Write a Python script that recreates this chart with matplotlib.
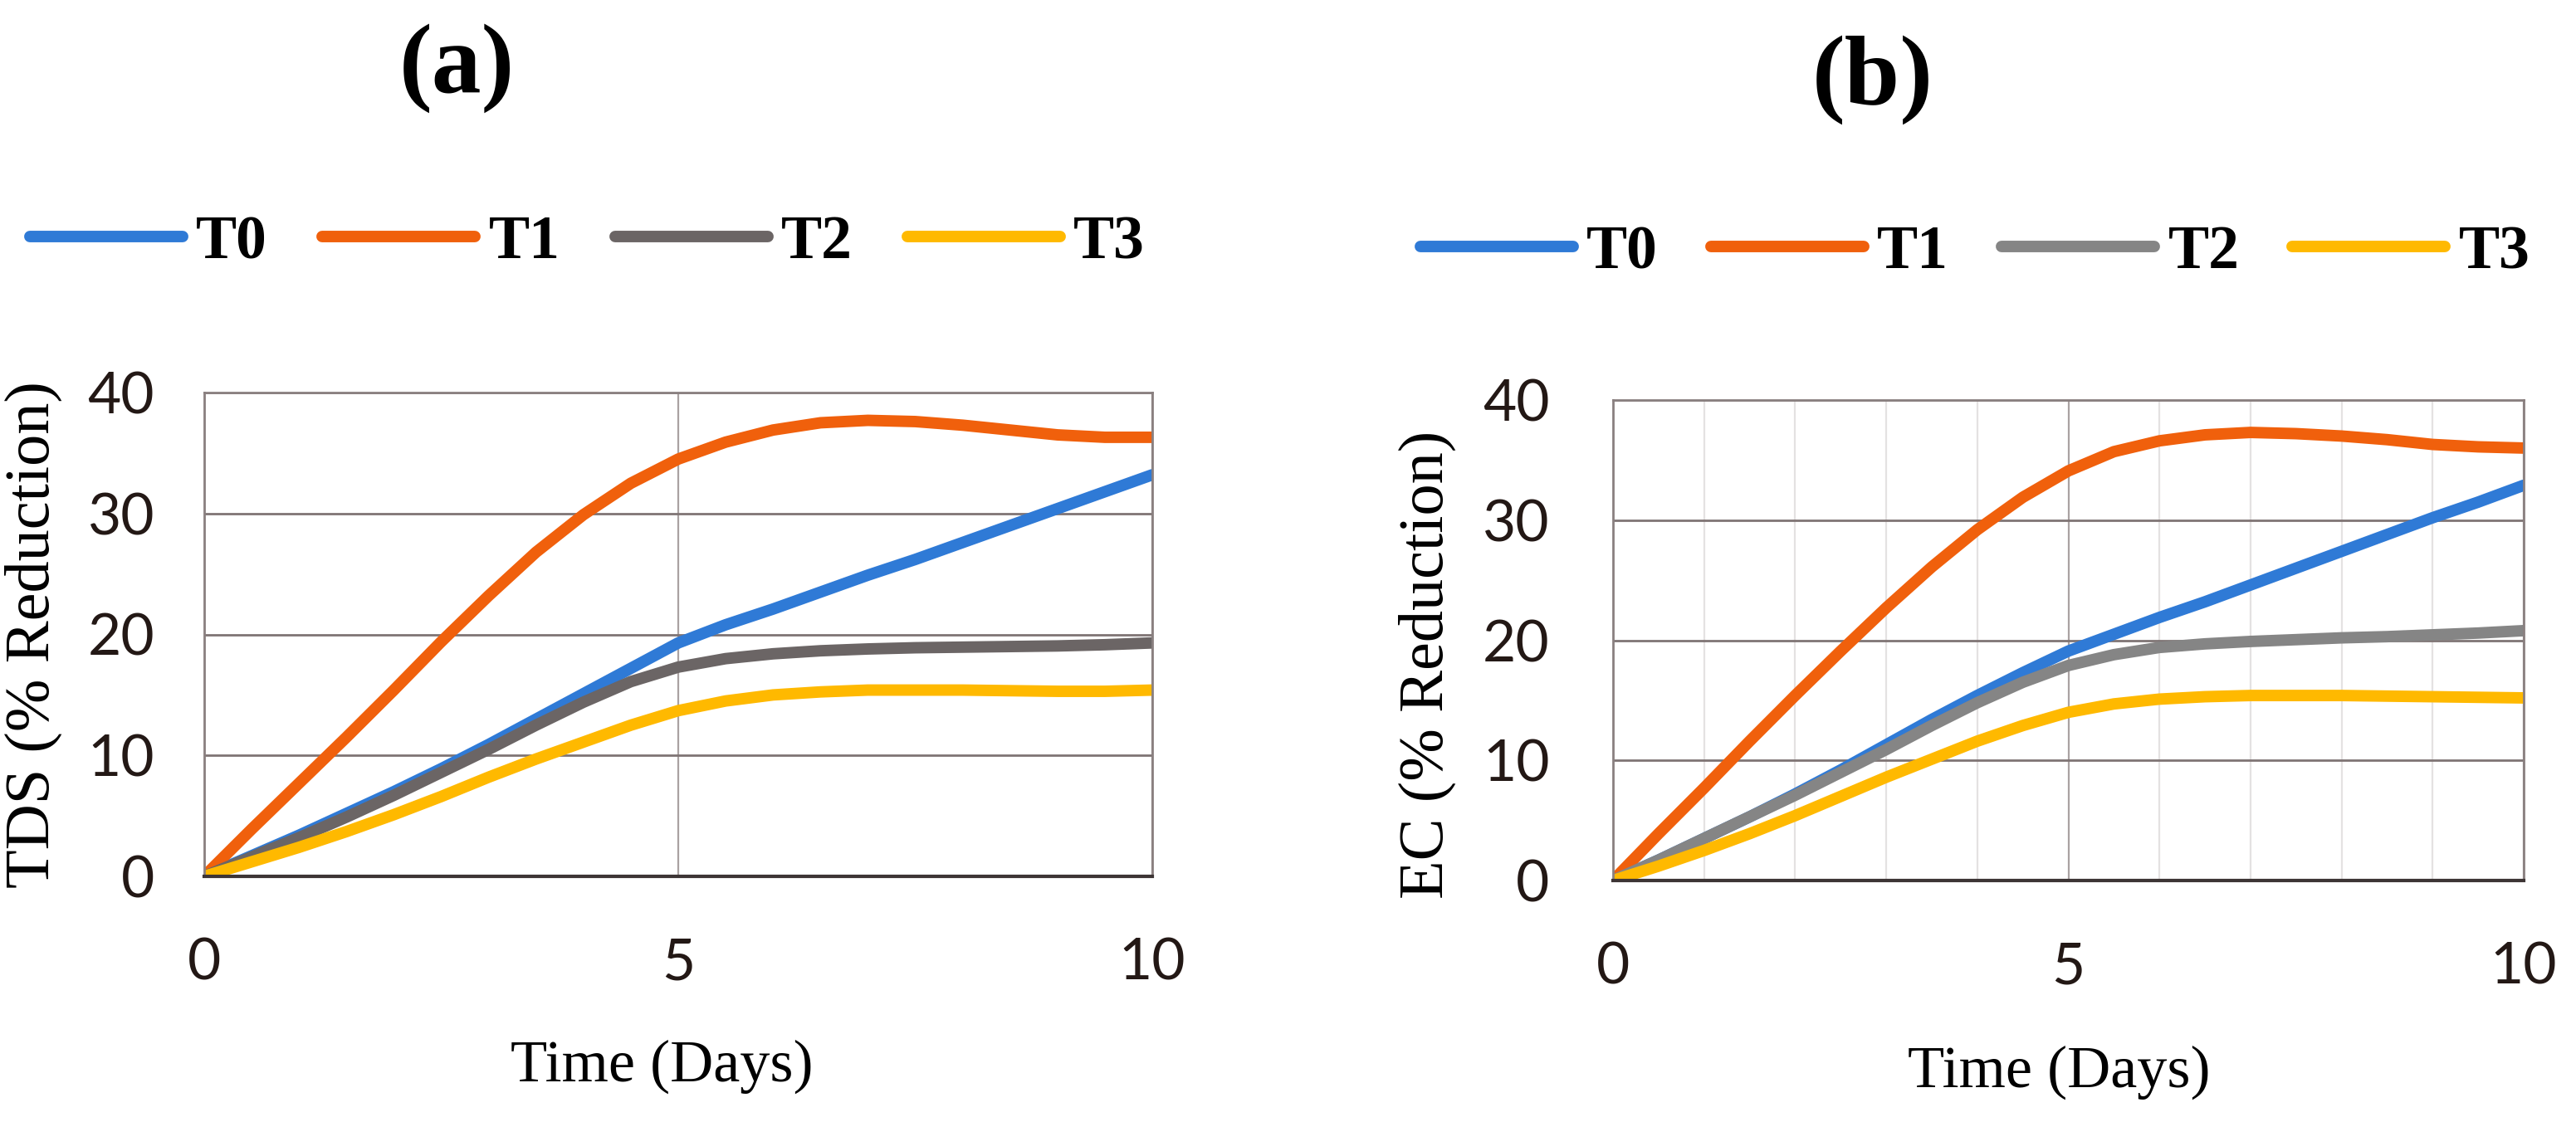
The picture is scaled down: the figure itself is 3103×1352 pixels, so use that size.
import numpy as np
import matplotlib
matplotlib.use("Agg")
import matplotlib.pyplot as plt
from matplotlib.ticker import MultipleLocator

# data, every half day from 0 to 10
days = [0, 0.5, 1, 1.5, 2, 2.5, 3, 3.5, 4, 4.5, 5,
        5.5, 6, 6.5, 7, 7.5, 8, 8.5, 9, 9.5, 10]
labels = ['T0', 'T1', 'T2', 'T3']

# (a) TDS
tds_t0 = [0, 1.7, 3.4, 5.2, 7.0, 8.9, 10.9, 13.0, 15.1, 17.2, 19.3,
          20.8, 22.1, 23.5, 24.9, 26.2, 27.6, 29.0, 30.4, 31.8, 33.2]
tds_t1 = [0, 3.9, 7.7, 11.5, 15.4, 19.4, 23.2, 26.8, 29.9, 32.5, 34.5,
          35.9, 36.9, 37.5, 37.7, 37.6, 37.3, 36.9, 36.5, 36.3, 36.3]
tds_t2 = [0, 1.6, 3.2, 4.9, 6.7, 8.6, 10.5, 12.5, 14.4, 16.1, 17.3,
          18.0, 18.4, 18.65, 18.8, 18.9, 18.95, 19.0, 19.05, 19.15, 19.3]
tds_t3 = [0, 1.2, 2.4, 3.7, 5.1, 6.6, 8.2, 9.7, 11.1, 12.5, 13.7,
          14.5, 15.0, 15.25, 15.4, 15.4, 15.4, 15.35, 15.3, 15.3, 15.4]

# (b) EC
ec_t0 = [0, 1.7, 3.5, 5.3, 7.2, 9.2, 11.3, 13.4, 15.4, 17.3, 19.1,
         20.5, 21.9, 23.2, 24.6, 26.0, 27.4, 28.8, 30.2, 31.5, 32.9]
ec_t1 = [0, 3.9, 7.7, 11.6, 15.4, 19.1, 22.7, 26.1, 29.2, 31.9, 34.1,
         35.7, 36.6, 37.1, 37.3, 37.2, 37.0, 36.7, 36.3, 36.1, 36.0]
ec_t2 = [0, 1.7, 3.5, 5.3, 7.1, 9.0, 10.9, 12.9, 14.8, 16.5, 17.9,
         18.8, 19.4, 19.7, 19.9, 20.05, 20.2, 20.3, 20.45, 20.6, 20.8]
ec_t3 = [0, 1.2, 2.5, 3.9, 5.4, 7.0, 8.6, 10.1, 11.6, 12.9, 14.0,
         14.7, 15.1, 15.3, 15.4, 15.4, 15.4, 15.35, 15.3, 15.25, 15.2]

colors_a = ['#2f7ad6', '#f0600c', '#6b6565', '#ffb900']
colors_b = ['#2f7ad6', '#f0600c', '#858585', '#ffb900']

serif = 'Liberation Serif'
tickfont = 'Lato'

fig = plt.figure(figsize=(31.03, 13.52), dpi=100)
fig.patch.set_facecolor('white')

ax1 = fig.add_axes([246/3103, 1-1056/1352, (1388-246)/3103, (1056-473)/1352])
ax2 = fig.add_axes([1943/3103, 1-1061/1352, (3040-1943)/3103, (1061-482)/1352])


def setup(ax, series, colors, ylab, minor, ypad, lab_xy):
    ax.set_xlim(0, 10)
    ax.set_ylim(0, 40)
    ax.xaxis.set_major_locator(MultipleLocator(5))
    ax.yaxis.set_major_locator(MultipleLocator(10))
    ax.grid(axis='y', which='major', color='#7f7474', lw=2.0, zorder=0)
    ax.grid(axis='x', which='major', color='#aaa2a2', lw=1.6, zorder=0)
    if minor:
        ax.xaxis.set_minor_locator(MultipleLocator(1))
        ax.grid(axis='x', which='minor', color='#e4e2e2', lw=1.6, zorder=0)
    ax.set_axisbelow(True)
    for s in ['top', 'right', 'left']:
        ax.spines[s].set_color('#8a8080')
        ax.spines[s].set_linewidth(2.0)
    ax.spines['bottom'].set_color('#3d3535')
    ax.spines['bottom'].set_linewidth(3.0)
    ax.tick_params(which='both', length=0)
    ax.tick_params(axis='x', pad=53, labelsize=50, labelcolor='#231815')
    ax.tick_params(axis='y', pad=ypad, labelsize=50, labelcolor='#231815')
    for t in ax.get_xticklabels() + ax.get_yticklabels():
        t.set_fontfamily(tickfont)
    for y, c, lab in zip(series, colors, labels):
        ax.plot(days, y, color=c, lw=10, label=lab, solid_capstyle='round',
                solid_joinstyle='round')
    ax.set_ylabel(ylab, fontfamily=serif, fontsize=55)
    ax.yaxis.set_label_coords(*lab_xy)


setup(ax1, [tds_t0, tds_t1, tds_t2, tds_t3], colors_a, 'TDS (% Reduction)',
      False, 43, (-0.150, 0.50))
setup(ax2, [ec_t0, ec_t1, ec_t2, ec_t3], colors_b, 'EC (% Reduction)',
      True, 55, (-0.172, 0.45))

# panel titles
fig.text(550/3103, 1-82/1352, '(a)', fontfamily=serif, fontweight='bold',
         fontsize=86, ha='center', va='center')
fig.text(2256/3103, 1-96/1352, '(b)', fontfamily=serif, fontweight='bold',
         fontsize=86, ha='center', va='center')

# x labels
fig.text(797/3103, 1-1285/1352, 'Time (Days)', fontfamily=serif,
         fontsize=52, ha='center', va='center')
fig.text(2480/3103, 1-1292/1352, 'Time (Days)', fontfamily=serif,
         fontsize=52, ha='center', va='center')

# legends
for ax, x0, y0, cs in [(ax1, 36, 293, 0.9), (ax2, 1711, 305, 0.87)]:
    h, l = ax.get_legend_handles_labels()
    fig.legend(h, l, loc='center left', bbox_to_anchor=(x0/3103, 1-y0/1352),
               ncol=4, frameon=False, borderpad=0, borderaxespad=0,
               handlelength=2.5, handletextpad=0.22, columnspacing=cs,
               prop={'family': serif, 'weight': 'bold', 'size': 53})

fig.savefig('out.png', dpi=100, facecolor='white')
